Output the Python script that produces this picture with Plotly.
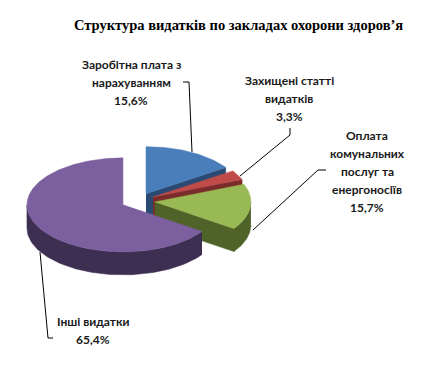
import numpy as np
import plotly.graph_objects as go

# ---- data ----
labels = ["Заробітна плата з<br>нарахуванням", "Захищені статті<br>видатків",
          "Оплата<br>комунальних<br>послуг та<br>енергоносіїв", "Інші видатки"]
values = [15.6, 3.3, 15.7, 65.4]
top_colors = ["#4A7EBB", "#BE4B48", "#98B954", "#7B5F9F"]
side_colors = ["#2A4A73", "#7A2C2A", "#4F6228", "#3D2F52"]
title = "Структура видатків по закладах охорони здоров’я"

# ---- geometry (pixel-like coordinate space) ----
W, H = 440, 366
CX, CY = 138, 201
RX, RY = 96, 47
DEPTH = 23
EXPLODE = 17
K = RY / RX
LINE_H = 18


def pt(cx, cy, th, dz=0):
    return cx + RX * np.sin(th), cy - RY * np.cos(th) + dz


total = sum(values)
starts = np.cumsum([0] + values[:-1]) / total * 2 * np.pi
ends = np.cumsum(values) / total * 2 * np.pi

slices = []
for i, v in enumerate(values):
    a1, a2 = starts[i], ends[i]
    mid = (a1 + a2) / 2
    ox = CX + EXPLODE * np.sin(mid)
    oy = CY - EXPLODE * K * np.cos(mid)
    slices.append((oy, i, a1, a2, ox))
slices.sort()

fig = go.Figure()


def poly(xs, ys, color):
    fig.add_trace(go.Scatter(x=list(xs), y=list(ys), mode="lines", fill="toself",
                             fillcolor=color, line=dict(color=color, width=0.5),
                             hoverinfo="skip", showlegend=False))


for oy, i, a1, a2, ox in slices:
    # radial faces
    for a, vis in ((a1, -np.sin(a1) > 0), (a2, np.sin(a2) > 0)):
        if vis:
            px, py = pt(ox, oy, a)
            poly([ox, px, px, ox], [oy, py, py + DEPTH, oy + DEPTH], side_colors[i])
    # outer wall (front-facing part)
    lo, hi = max(a1, np.pi / 2), min(a2, 3 * np.pi / 2)
    if hi > lo:
        th = np.linspace(lo, hi, 80)
        xs_t, ys_t = pt(ox, oy, th)
        xs = np.concatenate([xs_t, xs_t[::-1]])
        ys = np.concatenate([ys_t, (ys_t + DEPTH)[::-1]])
        poly(xs, ys, side_colors[i])
    # top face
    th = np.linspace(a1, a2, max(3, int(200 * (a2 - a1) / np.pi)))
    xs_t, ys_t = pt(ox, oy, th)
    poly(np.concatenate([[ox], xs_t, [ox]]), np.concatenate([[oy], ys_t, [oy]]), top_colors[i])

# ---- labels ----
label_top = [(131, 64), (289, 80), (367, 135), (93, 321)]  # centre x, first line y
leaders = [
    [(183, 82), (189, 82), (192, 152)],
    [(290, 128), (290, 135), (240, 176)],
    [(326, 170), (318, 170), (253, 230)],
    [(53, 338), (48, 338), (40, 252)],
]
for i, lab in enumerate(labels):
    pct = f"{values[i]:.1f}".replace(".", ",") + "%"
    lines = lab.split("<br>") + [pct]
    x0, y0 = label_top[i]
    for j, ln in enumerate(lines):
        fig.add_annotation(x=x0, y=y0 + j * LINE_H, text=f"<b>{ln}</b>",
                           showarrow=False, xanchor="center", yanchor="middle",
                           font=dict(family="Lato", size=12, color="#1a1a1a"))
    pts = leaders[i]
    path = "M " + " L ".join(f"{x},{y}" for x, y in pts)
    fig.add_shape(type="path", path=path, xref="x", yref="y",
                  line=dict(color="black", width=1))

fig.add_annotation(x=238, y=25, text=f"<b>{title}</b>", showarrow=False,
                   xanchor="center", yanchor="middle",
                   font=dict(family="Liberation Serif", size=14.5, color="black"))

fig.update_layout(
    width=W, height=H, margin=dict(l=0, r=0, t=0, b=0),
    paper_bgcolor="white", plot_bgcolor="white",
    xaxis=dict(range=[0, W], visible=False, fixedrange=True),
    yaxis=dict(range=[H, 0], visible=False, fixedrange=True),
)
fig.write_html("out.html")
